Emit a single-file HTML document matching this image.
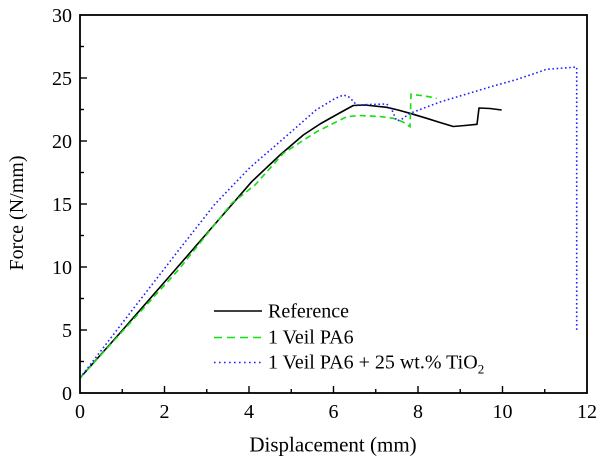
<!DOCTYPE html>
<html>
<head>
<meta charset="utf-8">
<style>
  html,body{margin:0;padding:0;background:#fff;}
  svg{display:block;}
  text{font-family:"Liberation Serif","DejaVu Serif",serif;fill:#000;}
</style>
</head>
<body>
<svg width="600" height="459" viewBox="0 0 600 459" xmlns="http://www.w3.org/2000/svg">
  <rect x="0" y="0" width="600" height="459" fill="#fff"/>

  <!-- Series -->
  <path d="M80,378 L120,333 L175,270 L215,224 L251.7,181.7 L280,155 L303.3,135 L320,124 L333.3,116.5 L345,110 L353.3,105.5 L365,105 L386.7,107.3 L398,110 L410,113.3 L426.7,118.3 L440,122.5 L453.3,126.5 L465,125.5 L477,124.3 L479,108 L490,108.5 L501.7,110"
        fill="none" stroke="#000" stroke-width="1.6" stroke-linejoin="round"/>
  <path d="M80,378 L120,334 L178.3,270 L231.7,203.3 L255,185 L283.3,153.3 L316.7,131.7 L336.7,121.7 L346.7,116.7 L360,115.5 L380,116.5 L393.3,118.3 L403,122 L410,126.7 L411,94.3 L425,96 L436.7,98.3"
        fill="none" stroke="#11e011" stroke-width="1.6" stroke-dasharray="6 4"/>
  <path d="M80,378 L130,313 L180,248.5 L215,204 L250,167.5 L283,139 L316,110 L335,98.5 L343.3,95 L348.3,96.5 L352,100 L356.7,105 L370,104.5 L386.7,104 L392,110 L396.7,121 L402,119 L410,113.3 L440,102 L493.3,86 L516.7,79.5 L546.7,69.3 L573.3,67.3 L576.7,67 L576.7,332"
        fill="none" stroke="#2020ff" stroke-width="1.6" stroke-dasharray="1.6 2.6"/>

  <!-- Frame -->
  <rect x="80" y="15" width="507" height="378" fill="none" stroke="#000" stroke-width="1.8"/>

  <!-- Y ticks -->
  <g stroke="#000" stroke-width="1.4">
    <line x1="80" y1="330" x2="87" y2="330"/>
    <line x1="80" y1="267" x2="87" y2="267"/>
    <line x1="80" y1="204" x2="87" y2="204"/>
    <line x1="80" y1="141" x2="87" y2="141"/>
    <line x1="80" y1="78" x2="87" y2="78"/>
    <line x1="80" y1="361.5" x2="84" y2="361.5"/>
    <line x1="80" y1="298.5" x2="84" y2="298.5"/>
    <line x1="80" y1="235.5" x2="84" y2="235.5"/>
    <line x1="80" y1="172.5" x2="84" y2="172.5"/>
    <line x1="80" y1="109.5" x2="84" y2="109.5"/>
    <line x1="80" y1="46.5" x2="84" y2="46.5"/>
  </g>
  <!-- X ticks -->
  <g stroke="#000" stroke-width="1.4">
    <line x1="164.5" y1="393" x2="164.5" y2="386"/>
    <line x1="249" y1="393" x2="249" y2="386"/>
    <line x1="333.5" y1="393" x2="333.5" y2="386"/>
    <line x1="418" y1="393" x2="418" y2="386"/>
    <line x1="502.5" y1="393" x2="502.5" y2="386"/>
    <line x1="122.25" y1="393" x2="122.25" y2="389"/>
    <line x1="206.75" y1="393" x2="206.75" y2="389"/>
    <line x1="291.25" y1="393" x2="291.25" y2="389"/>
    <line x1="375.75" y1="393" x2="375.75" y2="389"/>
    <line x1="460.25" y1="393" x2="460.25" y2="389"/>
    <line x1="544.75" y1="393" x2="544.75" y2="389"/>
  </g>

  <!-- Y tick labels -->
  <g font-size="20" text-anchor="end">
    <text x="72" y="400">0</text>
    <text x="72" y="337">5</text>
    <text x="72" y="274">10</text>
    <text x="72" y="211">15</text>
    <text x="72" y="148">20</text>
    <text x="72" y="85">25</text>
    <text x="72" y="22">30</text>
  </g>
  <!-- X tick labels -->
  <g font-size="20" text-anchor="middle">
    <text x="80" y="418">0</text>
    <text x="164.5" y="418">2</text>
    <text x="249" y="418">4</text>
    <text x="333.5" y="418">6</text>
    <text x="418" y="418">8</text>
    <text x="502.5" y="418">10</text>
    <text x="587" y="418">12</text>
  </g>

  <!-- Axis titles -->
  <text x="333" y="451.5" font-size="21" text-anchor="middle">Displacement (mm)</text>
  <text transform="translate(23,213) rotate(-90)" font-size="20" text-anchor="middle">Force (N/mm)</text>

  <!-- Legend -->
  <line x1="214" y1="311" x2="262" y2="311" stroke="#000" stroke-width="1.6"/>
  <line x1="214" y1="337.5" x2="262" y2="337.5" stroke="#11e011" stroke-width="1.6" stroke-dasharray="8 5"/>
  <line x1="214" y1="362.5" x2="262" y2="362.5" stroke="#2020ff" stroke-width="1.6" stroke-dasharray="1.6 3.4"/>
  <g font-size="20">
    <text x="268" y="317.5">Reference</text>
    <text x="268" y="343.3">1 Veil PA6</text>
    <text x="268" y="368.5">1 Veil PA6 + 25 wt.% TiO<tspan font-size="13" dy="5">2</tspan></text>
  </g>
</svg>
</body>
</html>
